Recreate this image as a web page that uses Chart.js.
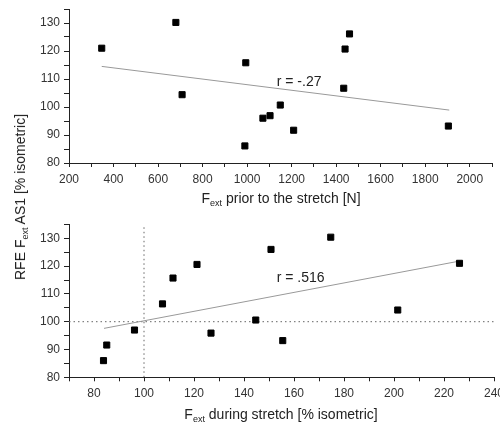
<!DOCTYPE html>
<html>
<head>
<meta charset="utf-8">
<script src="https://cdn.jsdelivr.net/npm/chart.js@4.4.1/dist/chart.umd.min.js"></script>
<style>
    html, body { margin: 0; padding: 0; background: #fff; }
    #wrap { position: relative; width: 500px; height: 426px; overflow: hidden; font-family: "Liberation Sans", Arial, sans-serif; color: #222; }
    .box { position: absolute; left: 0; width: 500px; }
    .title { position: absolute; font-size: 14px; line-height: 14px; white-space: nowrap; }
    .title sub { font-size: 9px; line-height: 0; vertical-align: -3px; }
</style>
</head>
<body>
<div id="wrap">
    <div class="box" style="top:0;height:210px"><canvas id="topChart" width="500" height="210"></canvas></div>
    <div class="box" style="top:210px;height:216px"><canvas id="bottomChart" width="500" height="216"></canvas></div>
    <div class="title" id="yTitle" style="left:20px;top:197px;transform:translate(-50%,-50%) rotate(-90deg)">RFE F<sub>ext</sub> AS1 [% isometric]</div>
    <div class="title" style="left:281px;top:191px;transform:translateX(-50%)">F<sub>ext</sub> prior to the stretch [N]</div>
    <div class="title" style="left:281px;top:407px;transform:translateX(-50%)">F<sub>ext</sub> during stretch [% isometric]</div>
</div>
<script>
// top panel: force before stretch vs RFE
const priorForce = [347, 680, 708, 994, 990, 1071, 1103, 1149, 1209, 1434, 1440, 1460, 1904];
const priorRfe = [121, 130.2, 104.4, 115.8, 86.1, 96, 96.9, 100.7, 91.7, 106.7, 120.7, 126.1, 93.2];
const priorFitX = [347, 1908];
const priorFitY = [114.5, 98.9];
const priorLabel = 'r = -.27';
const priorLabelAt = [1133, 108.9];

// bottom panel: force during stretch vs RFE
const duringForce = [83.8, 85.1, 96.2, 107.4, 111.6, 121.2, 126.8, 144.7, 150.8, 155.5, 174.7, 201.5, 226.2];
const duringRfe = [86, 91.6, 97, 106.4, 115.7, 120.6, 95.9, 100.6, 126, 93.2, 130.4, 104.2, 121];
const duringFitX = [84, 225];
const duringFitY = [97.6, 121.6];
const duringLabel = 'r = .516';
const duringLabelAt = [153.1, 115.5];
const refX = 100;
const refY = 100;

const font = "'Liberation Sans', Arial, sans-serif";

function toPoints(xs, ys) {
    return xs.map((x, i) => ({ x: x, y: ys[i] }));
}

const rLabel = {
    id: 'rLabel',
    afterDatasetsDraw(chart, args, opts) {
        const ctx = chart.ctx;
        ctx.save();
        ctx.font = '14px ' + font;
        ctx.fillStyle = '#222';
        ctx.textAlign = 'left';
        ctx.textBaseline = 'middle';
        ctx.fillText(opts.text, chart.scales.x.getPixelForValue(opts.at[0]), chart.scales.y.getPixelForValue(opts.at[1]));
        ctx.restore();
    }
};

function axes(xMin, xMax, xStep, xMajor, xHeight) {
    const border = { display: true, color: '#222', width: 1 };
    return {
        x: {
            type: 'linear',
            min: xMin, max: xMax,
            grid: { display: true, drawOnChartArea: false, drawTicks: true, tickLength: 4, tickColor: '#222' },
            border: border,
            ticks: {
                stepSize: xStep, autoSkip: false, maxRotation: 0, padding: 5,
                color: '#333', font: { family: font, size: 12 },
                callback: v => (v % xMajor === 0 ? v : '')
            },
            afterFit: s => { s.height = xHeight; s.paddingLeft = 0; s.paddingRight = 0; }
        },
        y: {
            type: 'linear',
            min: 80, max: 135,
            grid: { display: true, drawOnChartArea: false, drawTicks: true, tickLength: 5, tickColor: '#222' },
            border: border,
            ticks: {
                stepSize: 5, autoSkip: false, padding: 4,
                color: '#333', font: { family: font, size: 12 },
                callback: v => (v % 10 === 0 ? v : '')
            },
            afterFit: s => { s.width = 69; s.paddingTop = 0; s.paddingBottom = 0; }
        }
    };
}

const pointStyle = {
    pointStyle: 'rect', pointRadius: 4.3, backgroundColor: '#000', borderColor: '#000', borderWidth: 1, showLine: false
};
const fitStyle = {
    showLine: true, pointRadius: 0, borderColor: '#999', borderWidth: 1, fill: false
};

new Chart(document.getElementById('topChart'), {
    type: 'scatter',
    data: {
        datasets: [
            Object.assign({ data: toPoints(priorForce, priorRfe) }, pointStyle),
            Object.assign({ data: toPoints(priorFitX, priorFitY) }, fitStyle)
        ]
    },
    options: {
        responsive: false,
        animation: false,
        layout: { padding: { top: 9, right: 8, left: 0, bottom: 0 } },
        scales: axes(200, 2100, 100, 200, 47),
        plugins: { legend: { display: false }, tooltip: { enabled: false }, rLabel: { text: priorLabel, at: priorLabelAt } }
    },
    plugins: [rLabel]
});

const dotStyle = {
    showLine: true, pointRadius: 0, borderColor: '#666', borderWidth: 1, borderDash: [1.5, 3], fill: false
};

new Chart(document.getElementById('bottomChart'), {
    type: 'scatter',
    data: {
        datasets: [
            Object.assign({ data: toPoints(duringForce, duringRfe) }, pointStyle),
            Object.assign({ data: toPoints(duringFitX, duringFitY) }, fitStyle),
            Object.assign({ data: [{ x: refX, y: 80 }, { x: refX, y: 135 }] }, dotStyle),
            Object.assign({ data: [{ x: 70, y: refY }, { x: 240, y: refY }] }, dotStyle)
        ]
    },
    options: {
        responsive: false,
        animation: false,
        layout: { padding: { top: 14.4, right: 6, left: 0, bottom: 0 } },
        scales: axes(70, 240, 10, 20, 48.7),
        plugins: { legend: { display: false }, tooltip: { enabled: false }, rLabel: { text: duringLabel, at: duringLabelAt } }
    },
    plugins: [rLabel]
});
</script>
</body>
</html>
